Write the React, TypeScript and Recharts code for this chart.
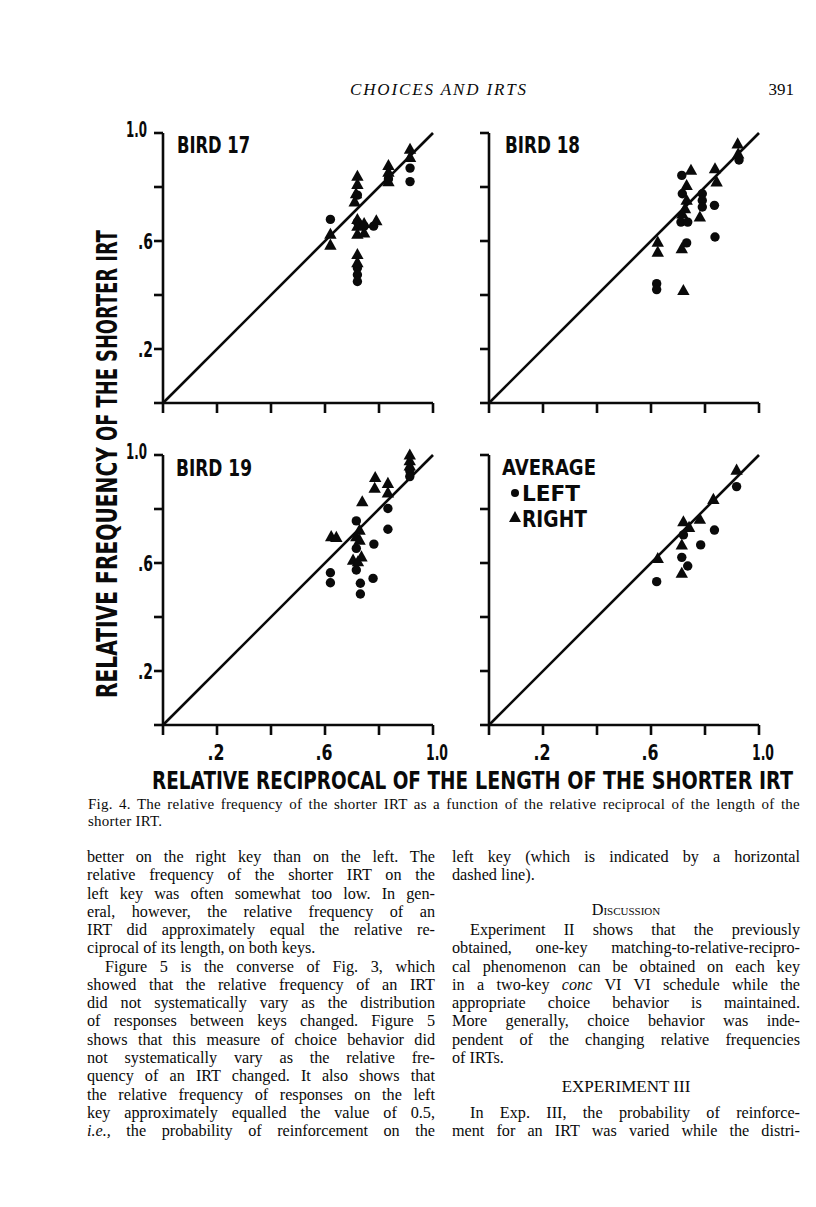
import React from 'react';
import { ScatterChart, Scatter, XAxis, YAxis, ReferenceLine } from 'recharts';

// axis ticks shared by all four panels
const TICKS = [0, 0.2, 0.4, 0.6, 0.8, 1.0];
const TICK_LABELS: Record<number, string> = { 2: '.2', 6: '.6', 10: '1.0' };

// Bird 17
const bird17Left = [
  { x: 0.62, y: 0.68 }, { x: 0.72, y: 0.77 }, { x: 0.72, y: 0.67 }, { x: 0.745, y: 0.655 },
  { x: 0.72, y: 0.5 }, { x: 0.72, y: 0.475 }, { x: 0.72, y: 0.45 }, { x: 0.78, y: 0.655 },
  { x: 0.835, y: 0.83 }, { x: 0.915, y: 0.87 }, { x: 0.915, y: 0.82 },
];
const bird17Right = [
  { x: 0.62, y: 0.625 }, { x: 0.62, y: 0.585 }, { x: 0.72, y: 0.84 }, { x: 0.72, y: 0.81 },
  { x: 0.715, y: 0.775 }, { x: 0.71, y: 0.745 }, { x: 0.72, y: 0.68 }, { x: 0.72, y: 0.655 },
  { x: 0.72, y: 0.625 }, { x: 0.745, y: 0.63 }, { x: 0.745, y: 0.665 }, { x: 0.72, y: 0.55 },
  { x: 0.72, y: 0.52 }, { x: 0.79, y: 0.675 }, { x: 0.835, y: 0.88 }, { x: 0.835, y: 0.855 },
  { x: 0.835, y: 0.82 }, { x: 0.915, y: 0.94 }, { x: 0.915, y: 0.91 },
];

// Bird 18
const bird18Left = [
  { x: 0.714, y: 0.843 }, { x: 0.716, y: 0.775 }, { x: 0.711, y: 0.67 }, { x: 0.736, y: 0.67 },
  { x: 0.79, y: 0.775 }, { x: 0.79, y: 0.75 }, { x: 0.79, y: 0.726 }, { x: 0.835, y: 0.732 },
  { x: 0.837, y: 0.615 }, { x: 0.732, y: 0.593 }, { x: 0.621, y: 0.442 }, { x: 0.621, y: 0.42 },
  { x: 0.926, y: 0.9 },
];
const bird18Right = [
  { x: 0.748, y: 0.862 }, { x: 0.732, y: 0.806 }, { x: 0.732, y: 0.751 }, { x: 0.726, y: 0.72 },
  { x: 0.716, y: 0.7 }, { x: 0.781, y: 0.689 }, { x: 0.714, y: 0.572 }, { x: 0.625, y: 0.596 },
  { x: 0.625, y: 0.559 }, { x: 0.72, y: 0.417 }, { x: 0.837, y: 0.868 }, { x: 0.843, y: 0.819 },
  { x: 0.921, y: 0.96 }, { x: 0.923, y: 0.923 },
];

// Bird 19
const bird19Left = [
  { x: 0.62, y: 0.564 }, { x: 0.62, y: 0.527 }, { x: 0.716, y: 0.756 }, { x: 0.716, y: 0.654 },
  { x: 0.716, y: 0.574 }, { x: 0.731, y: 0.525 }, { x: 0.731, y: 0.485 }, { x: 0.781, y: 0.67 },
  { x: 0.778, y: 0.543 }, { x: 0.833, y: 0.802 }, { x: 0.833, y: 0.725 }, { x: 0.914, y: 0.942 },
  { x: 0.914, y: 0.92 },
];
const bird19Right = [
  { x: 0.623, y: 0.698 }, { x: 0.642, y: 0.695 }, { x: 0.728, y: 0.722 }, { x: 0.716, y: 0.698 },
  { x: 0.728, y: 0.685 }, { x: 0.704, y: 0.611 }, { x: 0.735, y: 0.623 }, { x: 0.722, y: 0.605 },
  { x: 0.738, y: 0.827 }, { x: 0.786, y: 0.917 }, { x: 0.784, y: 0.877 }, { x: 0.833, y: 0.895 },
  { x: 0.833, y: 0.86 }, { x: 0.914, y: 1.0 }, { x: 0.914, y: 0.979 }, { x: 0.914, y: 0.96 },
];

// Average
const avgLeft = [
  { x: 0.621, y: 0.531 }, { x: 0.72, y: 0.704 }, { x: 0.714, y: 0.621 }, { x: 0.736, y: 0.589 },
  { x: 0.784, y: 0.667 }, { x: 0.835, y: 0.722 }, { x: 0.917, y: 0.883 },
];
const avgRight = [
  { x: 0.625, y: 0.617 }, { x: 0.72, y: 0.753 }, { x: 0.714, y: 0.667 }, { x: 0.714, y: 0.562 },
  { x: 0.741, y: 0.732 }, { x: 0.781, y: 0.762 }, { x: 0.831, y: 0.836 }, { x: 0.917, y: 0.944 },
];

const SANS = 'DejaVu Sans';
const SERIF = '"Liberation Serif", "DejaVu Serif", "Times New Roman", serif';
const INK = '#0a0a0a';
const CAP = 0.729; // DejaVu Sans cap height / em

// measure natural width so the text can be sized to a given box
let ctx: CanvasRenderingContext2D | null = null;
function natural(text: string) {
  if (!ctx) ctx = document.createElement('canvas').getContext('2d');
  if (!ctx) return text.length * 70;
  ctx.font = `bold 100px "${SANS}"`;
  return ctx.measureText(text).width;
}

// bold sans text fitted to a width and cap height (the figure lettering is narrow and tall)
function FitText({ x, y, text, width, cap, anchor = 'start', rotate = false }: any) {
  const fontSize = (width * 100) / natural(text);
  const sy = cap / (CAP * fontSize);
  const tf = `translate(${x},${y})${rotate ? ' rotate(-90)' : ''} scale(1,${sy.toFixed(3)})`;
  return (
    <text transform={tf} x={0} y={0} textAnchor={anchor} fontFamily={SANS} fontWeight="bold"
      fontSize={fontSize} fill={INK} textLength={width} lengthAdjust="spacingAndGlyphs">
      {text}
    </text>
  );
}

const CircleMark = (p: any) => <circle cx={p.cx} cy={p.cy} r={4.7} fill={INK} />;
const TriangleMark = (p: any) => (
  <polygon
    points={`${p.cx},${p.cy - 6.5} ${p.cx - 6.2},${p.cy + 4.6} ${p.cx + 6.2},${p.cy + 4.6}`}
    fill={INK}
  />
);

function tickLabel(v: number) {
  return TICK_LABELS[Math.round(v * 10)];
}

function XTick(props: any) {
  const { x, y, payload, show } = props;
  const label = show ? tickLabel(payload.value) : undefined;
  if (!label) return <g />;
  const wide = label.length === 3;
  return <FitText x={x + (wide ? 4 : -1)} y={y + 23} text={label} width={wide ? 22 : 17} cap={16} anchor="middle" />;
}

function YTick(props: any) {
  const { x, y, payload, show } = props;
  const label = show ? tickLabel(payload.value) : undefined;
  if (!label) return <g />;
  const wide = label.length === 3;
  return (
    <FitText x={wide ? x - 6 : x} y={wide ? y + 4 : y + 7.5} text={label} width={wide ? 21 : 15}
      cap={15} anchor="end" />
  );
}

interface PanelProps {
  left: number;
  top: number;
  circles: { x: number; y: number }[];
  triangles: { x: number; y: number }[];
  xLabels: boolean;
  yLabels: boolean;
}

function Panel({ left, top, circles, triangles, xLabels, yLabels }: PanelProps) {
  const line = { stroke: INK, strokeWidth: 2.6 };
  return (
    <div style={{ position: 'absolute', left, top }}>
      <ScatterChart width={350} height={350} margin={{ top: 30, right: 20, bottom: 0, left: 0 }}>
        <XAxis type="number" dataKey="x" domain={[0, 1]} ticks={TICKS} interval={0} height={50}
          axisLine={line} tickLine={line} tickSize={10} tickMargin={2}
          tick={(p: any) => <XTick {...p} show={xLabels} />} />
        <YAxis type="number" dataKey="y" domain={[0, 1]} ticks={TICKS} interval={0} width={60}
          axisLine={line} tickLine={line} tickSize={9} tickMargin={1}
          tick={(p: any) => <YTick {...p} show={yLabels} />} />
        <ReferenceLine segment={[{ x: 0, y: 0 }, { x: 1, y: 1 }]} stroke={INK} strokeWidth={2.6} />
        <Scatter data={circles} shape={CircleMark} isAnimationActive={false} />
        <Scatter data={triangles} shape={TriangleMark} isAnimationActive={false} />
      </ScatterChart>
    </div>
  );
}

// body text, line by line; j = justify the line
const leftColumn = [
  { t: 'better on the right key than on the left. The', j: true },
  { t: 'relative frequency of the shorter IRT on the', j: true },
  { t: 'left key was often somewhat too low. In gen-', j: true },
  { t: 'eral, however, the relative frequency of an', j: true },
  { t: 'IRT did approximately equal the relative re-', j: true },
  { t: 'ciprocal of its length, on both keys.', j: false },
  { t: 'Figure 5 is the converse of Fig. 3, which', j: true, indent: true },
  { t: 'showed that the relative frequency of an IRT', j: true },
  { t: 'did not systematically vary as the distribution', j: true },
  { t: 'of responses between keys changed. Figure 5', j: true },
  { t: 'shows that this measure of choice behavior did', j: true },
  { t: 'not systematically vary as the relative fre-', j: true },
  { t: 'quency of an IRT changed. It also shows that', j: true },
  { t: 'the relative frequency of responses on the left', j: true },
  { t: 'key approximately equalled the value of 0.5,', j: true },
  { t: '', j: true, node: <><i>i.e.,</i> the probability of reinforcement on the</> },
];

const rightColumn = [
  { row: 0, t: 'left key (which is indicated by a horizontal', j: true },
  { row: 1, t: 'dashed line).', j: false },
  { row: 2.9, t: 'Discussion', center: true, caps: true },
  { row: 4, t: 'Experiment II shows that the previously', j: true, indent: true },
  { row: 5, t: 'obtained, one-key matching-to-relative-recipro-', j: true },
  { row: 6, t: 'cal phenomenon can be obtained on each key', j: true },
  { row: 7, t: '', j: true, node: <>in a two-key <i>conc</i> VI VI schedule while the</> },
  { row: 8, t: 'appropriate choice behavior is maintained.', j: true },
  { row: 9, t: 'More generally, choice behavior was inde-', j: true },
  { row: 10, t: 'pendent of the changing relative frequencies', j: true },
  { row: 11, t: 'of IRTs.', j: false },
  { row: 12.6, t: 'EXPERIMENT III', center: true, big: true },
  { row: 14, t: 'In Exp. III, the probability of reinforce-', j: true, indent: true },
  { row: 15, t: 'ment for an IRT was varied while the distri-', j: true },
];

const LINE_H = 18.27;
const FIRST_TOP = 848;

function TextLine({ item, row, left, width }: any) {
  const align = item.center ? 'center' : item.j ? 'justify' : 'left';
  return (
    <div
      style={{
        position: 'absolute', left, top: FIRST_TOP + row * LINE_H, width, height: LINE_H,
        lineHeight: `${LINE_H}px`, fontSize: item.big ? 17 : 16.2, fontFamily: SERIF, color: INK,
        textAlign: align as any, textAlignLast: align as any, boxSizing: 'border-box',
        paddingLeft: item.indent ? 18 : 0, fontVariant: item.caps ? 'small-caps' : 'normal',
        whiteSpace: 'nowrap',
      }}
    >
      {item.node ?? item.t}
    </div>
  );
}

export default function App() {
  return (
    <div style={{ position: 'absolute', left: 0, top: 0, width: 816, height: 1207, background: '#fff', overflow: 'hidden' }}>
      <Panel left={103} top={103} circles={bird17Left} triangles={bird17Right} xLabels={false} yLabels />
      <Panel left={429} top={103} circles={bird18Left} triangles={bird18Right} xLabels={false} yLabels={false} />
      <Panel left={103} top={425} circles={bird19Left} triangles={bird19Right} xLabels yLabels />
      <Panel left={429} top={425} circles={avgLeft} triangles={avgRight} xLabels yLabels={false} />

      <svg width={816} height={1207} style={{ position: 'absolute', left: 0, top: 0, pointerEvents: 'none' }}>
        <text x={438} y={95} textAnchor="middle" fontFamily={SERIF} fontStyle="italic" fontSize={17}
          fill={INK} textLength={176} lengthAdjust="spacing">
          CHOICES AND IRTS
        </text>
        <text x={794} y={95} textAnchor="end" fontFamily={SERIF} fontSize={17} fill={INK}>391</text>

        <FitText x={177} y={153} text="BIRD 17" width={73} cap={17} />
        <FitText x={505} y={153} text="BIRD 18" width={75} cap={17} />
        <FitText x={176} y={476} text="BIRD 19" width={76} cap={17} />
        <FitText x={502} y={474.5} text="AVERAGE" width={94} cap={16} />
        <circle cx={515} cy={493} r={4} fill={INK} />
        <FitText x={522} y={500.5} text="LEFT" width={58} cap={16} />
        <polygon points="515,511 509,522 521,522" fill={INK} />
        <FitText x={522} y={526.5} text="RIGHT" width={65} cap={17} />

        <FitText x={117} y={698} rotate text="RELATIVE FREQUENCY" width={251} cap={21} />
        <FitText x={117} y={441} rotate text="OF THE SHORTER IRT" width={211} cap={21} />
        <FitText x={152} y={789} text="RELATIVE RECIPROCAL OF THE" width={316} cap={18.5} />
        <FitText x={475} y={789} text="LENGTH OF THE SHORTER IRT" width={318} cap={18.5} />
      </svg>

      <div style={{ position: 'absolute', left: 88, top: 796, width: 712, fontFamily: SERIF, fontSize: 15, letterSpacing: 0.25, lineHeight: '17px', color: INK }}>
        <div style={{ textAlign: 'justify', textAlignLast: 'justify', whiteSpace: 'nowrap' }}>
          Fig. 4. The relative frequency of the shorter IRT as a function of the relative reciprocal of the length of the
        </div>
        <div>shorter IRT.</div>
      </div>

      {leftColumn.map((item, i) => (
        <TextLine key={`l${i}`} item={item} row={i} left={87} width={348} />
      ))}
      {rightColumn.map((item, i) => (
        <TextLine key={`r${i}`} item={item} row={item.row} left={452} width={348} />
      ))}
    </div>
  );
}
